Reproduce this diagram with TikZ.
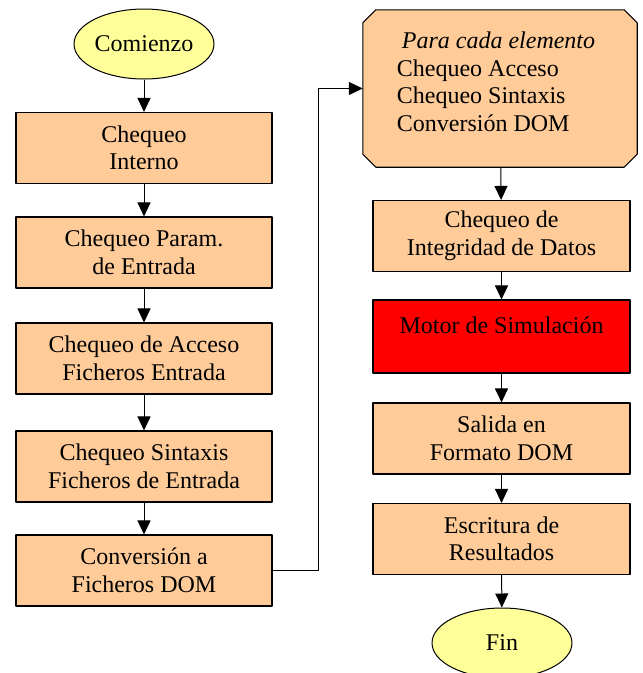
\documentclass[tikz,border=0pt]{standalone}
\usepackage{fontspec}
\setmainfont{Liberation Serif}
\usetikzlibrary{arrows.meta,shapes.geometric}
\definecolor{naranja}{HTML}{FFCC99}
\definecolor{amarillo}{HTML}{FFFF99}
\tikzset{
  caja/.style={draw, line width=1.1pt, fill=naranja, minimum width=256pt, minimum height=71pt, align=center, inner sep=0pt},
  extremo/.style={draw, line width=1pt, fill=amarillo, ellipse, minimum width=140pt, minimum height=70pt, inner sep=0pt},
  flecha/.style={->, line width=1pt}
}
\begin{document}
\begin{tikzpicture}[x=1pt, y=-1pt, line join=round, >={Triangle[length=14pt,width=13pt]}, font=\rmfamily\fontsize{24}{27.5}\selectfont]
                \useasboundingbox (0,0) rectangle (643,673);
                % columna izquierda
                \node[extremo] (comienzo) at (144,44) {Comienzo};
                \node[caja] (interno) at (144,148) {Chequeo\\Interno};
                \node[caja] (param) at (144,252.5) {Chequeo Param.\\de Entrada};
                \node[caja] (acceso) at (144,358.5) {Chequeo de Acceso\\Ficheros Entrada};
                \node[caja] (sintaxis) at (144,466.5) {Chequeo Sintaxis\\Ficheros de Entrada};
                \node[caja] (conversion) at (144,570.5) {Conversión a\\Ficheros DOM};
                % columna derecha
                \node[minimum width=274pt, minimum height=157pt, inner sep=0pt] (bucle) at (500,88.5) {};
                \draw[line width=1.1pt, fill=naranja]
                ([xshift=13pt]bucle.north west) -- ([xshift=-13pt]bucle.north east)
                -- ([yshift=-13pt]bucle.north east) -- ([yshift=13pt]bucle.south east)
                -- ([xshift=-13pt]bucle.south east) -- ([xshift=13pt]bucle.south west)
                -- ([yshift=13pt]bucle.south west) -- ([yshift=-13pt]bucle.north west) -- cycle;
                \node[align=left, inner sep=0pt] (bucletxt) at (496,82) {\hspace*{5pt}\textit{Para cada elemento}\\Chequeo Acceso\\Chequeo Sintaxis\\Conversión DOM};
                \node[caja, minimum width=257pt] (integridad) at (501.5,236) {Chequeo de\\Integridad de Datos};
                \node[caja, minimum width=257pt, fill=red, minimum height=73pt, text depth=22pt] (motor) at (501.5,336.5) {Motor de Simulación};
                \node[caja, minimum width=257pt] (salida) at (501.5,438.5) {Salida en\\Formato DOM};
                \node[caja, minimum width=257pt] (escritura) at (501.5,539) {Escritura de\\Resultados};
                \node[extremo] (fin) at (502,643) {Fin};
                % flechas
                \draw[flecha] (comienzo) -- (interno);
                \draw[flecha] (interno) -- (param);
                \draw[flecha] (param) -- (acceso);
                \draw[flecha] (acceso) -- (sintaxis);
                \draw[flecha] (sintaxis) -- (conversion);
                \draw[flecha] (conversion.east) -- ++(46,0) |- (bucle.west);
                \draw[flecha] (bucle) -- (integridad);
                \draw[flecha] (integridad) -- (motor);
                \draw[flecha] (motor) -- (salida);
                \draw[flecha] (salida) -- (escritura);
                \draw[flecha] (escritura) -- (fin);
            \end{tikzpicture}
\end{document}
